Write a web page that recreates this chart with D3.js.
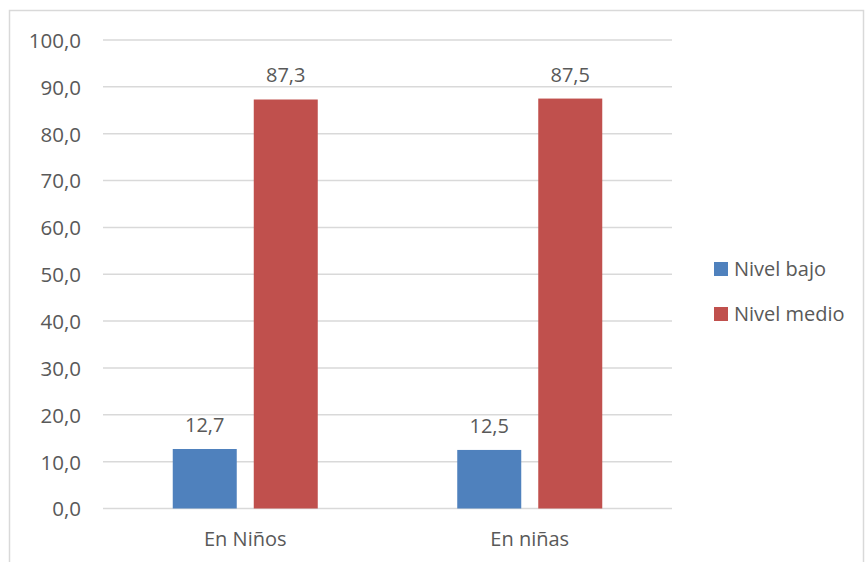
<!DOCTYPE html>
<html><head><meta charset="utf-8">
<script src="https://cdn.jsdelivr.net/npm/d3@7"></script>
<style>body{margin:0;background:#fff}svg{display:block}text{font-family:"Open Sans",sans-serif;fill:#595959}</style>
</head><body><svg id="c" width="865" height="562"></svg>
<script>
const categories = ["En Niños", "En niñas"];
const seriesNames = ["Nivel bajo", "Nivel medio"];
const nivelBajo = [12.7, 12.5];
const nivelMedio = [87.3, 87.5];
const yTicks = [0,10,20,30,40,50,60,70,80,90,100];
const colors = ["#4F81BD", "#C0504D"];

const values = [nivelBajo, nivelMedio];
const svg = d3.select("#c");
const fmt = v => v.toFixed(1).replace(".", ",");

svg.append("rect").attr("x",9.5).attr("y",10.5).attr("width",854).attr("height",570)
  .attr("fill","#fff").attr("stroke","#D9D9D9").attr("stroke-width",1.5);

const x0 = d3.scaleBand().domain(categories).range([103,672]);
const x1 = d3.scaleBand().domain(seriesNames).range([0,x0.bandwidth()]).paddingInner(0.21).paddingOuter(0.861);
const y = d3.scaleLinear().domain([0,100]).range([508.5,40]);

const grid = svg.append("g");
grid.selectAll("line").data(yTicks).join("line")
  .attr("x1",103).attr("x2",672).attr("y1",d=>y(d)).attr("y2",d=>y(d))
  .attr("stroke","#D9D9D9").attr("stroke-width",1.5);

const yAxis = svg.append("g").attr("transform","translate(103,0)")
  .call(d3.axisLeft(y).tickValues(yTicks).tickFormat(fmt).tickSize(0).tickPadding(22));
yAxis.select(".domain").remove();
yAxis.selectAll("text").attr("font-size",20.5).attr("font-family","'Open Sans',sans-serif").attr("fill","#595959").attr("dy","0.36em");

const xAxis = svg.append("g").attr("transform","translate(0,508.5)")
  .call(d3.axisBottom(x0).tickSize(0).tickPadding(23));
xAxis.select(".domain").remove();
xAxis.selectAll("text").attr("font-size",20).attr("font-family","'Open Sans',sans-serif").attr("fill","#595959");

const groups = svg.append("g").selectAll("g").data(categories).join("g")
  .attr("transform",d=>`translate(${x0(d)},0)`);
seriesNames.forEach((s,si)=>{
  groups.append("rect")
    .attr("x",x1(s)).attr("width",x1.bandwidth())
    .attr("y",(d,i)=>y(values[si][i])).attr("height",(d,i)=>y(0)-y(values[si][i]))
    .attr("fill",colors[si]);
  groups.append("text")
    .attr("x",x1(s)+x1.bandwidth()/2).attr("y",(d,i)=>y(values[si][i])-17)
    .attr("text-anchor","middle").attr("font-size",20)
    .text((d,i)=>fmt(values[si][i]));
});

const legend = svg.append("g");
seriesNames.forEach((s,i)=>{
  const ly = 269 + i*45;
  legend.append("rect").attr("x",714).attr("y",ly-7).attr("width",14).attr("height",14).attr("fill",colors[i]);
  legend.append("text").attr("x",734).attr("y",ly).attr("dy","0.36em").attr("font-size",20).text(s);
});
</script></body></html>
